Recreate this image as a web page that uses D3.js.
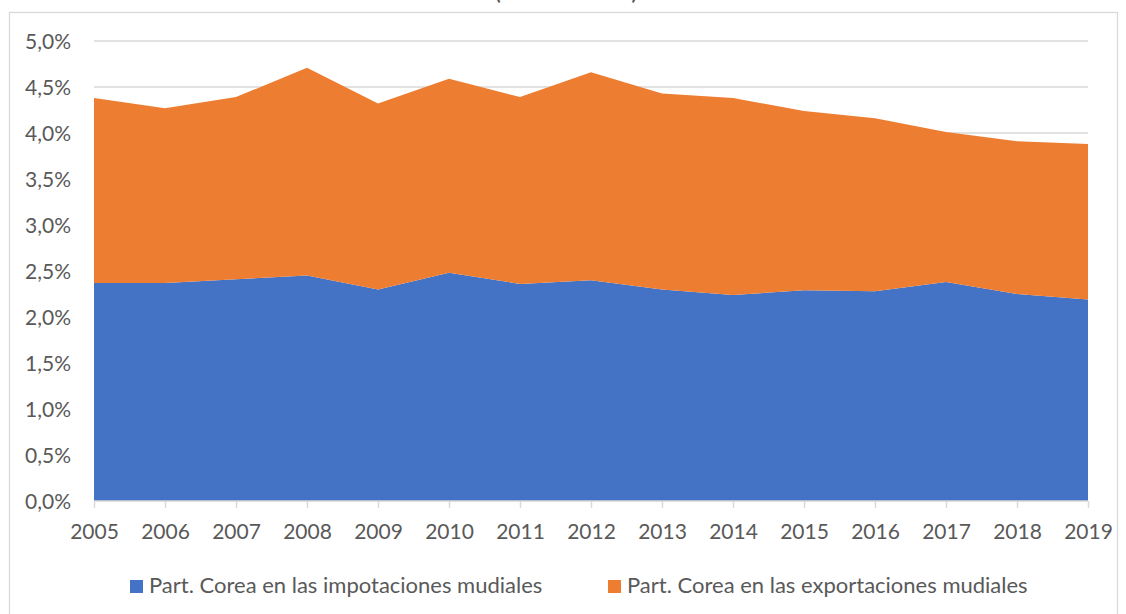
<!DOCTYPE html>
<html>
<head>
<meta charset="utf-8">
<script src="https://cdn.jsdelivr.net/npm/d3@7/dist/d3.min.js"></script>
<style>
html,body{margin:0;padding:0;background:#fff;}
svg{display:block;font-family:Lato, "Open Sans", sans-serif;}
</style>
</head>
<body>
<svg id="chart" width="1126" height="614"></svg>
<script>
const years = ["2005","2006","2007","2008","2009","2010","2011","2012","2013","2014","2015","2016","2017","2018","2019"];
const imports = [2.37,2.37,2.41,2.45,2.30,2.48,2.36,2.40,2.30,2.24,2.29,2.28,2.38,2.25,2.19];
const exports = [2.01,1.90,1.98,2.26,2.02,2.11,2.03,2.26,2.13,2.14,1.95,1.88,1.63,1.66,1.69];
const yTicks = [0,0.5,1,1.5,2,2.5,3,3.5,4,4.5,5];
const seriesNames = ["Part. Corea en las impotaciones mudiales","Part. Corea en las exportaciones mudiales"];
const colors = ["#4472C4","#ED7D31"];
const titleText = "(2005-2019)";

const svg = d3.select("#chart");
const textColor = "#595959";
const gridColor = "#d9d9d9";

// chart border
svg.append("rect").attr("x",9.5).attr("y",12.5).attr("width",1108).attr("height",640)
  .attr("fill","none").attr("stroke",gridColor).attr("stroke-width",1.3);

// title (cut off at the top, as in the source image)
svg.append("text").attr("x",566).attr("y",-1.5).attr("text-anchor","middle")
  .attr("font-size",26).attr("fill",textColor).text(titleText);

const x = d3.scalePoint().domain(years).range([94,1088]);
const y = d3.scaleLinear().domain([0,5]).range([501,41]);

// gridlines
svg.append("g").selectAll("line").data(yTicks.filter(d=>d>0)).join("line")
  .attr("x1",94).attr("x2",1088).attr("y1",d=>y(d)).attr("y2",d=>y(d))
  .attr("stroke",gridColor).attr("stroke-width",1.5);

const data = years.map((yr,i)=>({year:yr, imp:imports[i], exp:exports[i]}));
const stack = d3.stack().keys(["imp","exp"]);
const stacked = stack(data);
const area = d3.area().x(d=>x(d.data.year)).y0(d=>y(d[0])).y1(d=>y(d[1]));
svg.append("g").selectAll("path").data(stacked).join("path")
  .attr("d",area).attr("fill",(d,i)=>colors[i]);

// x axis
const xAxis = d3.axisBottom(x).tickSize(7).tickPadding(16);
const gx = svg.append("g").attr("transform","translate(0,501)").call(xAxis);
gx.select(".domain").attr("stroke",gridColor).attr("stroke-width",1.5).attr("d","M94,0H1088");
gx.selectAll(".tick line").attr("stroke",gridColor).attr("stroke-width",1.5);
gx.selectAll(".tick text").attr("font-size",21).attr("fill",textColor).attr("font-family","Lato, sans-serif");

// y axis labels
const fmt = d => d.toFixed(1).replace(".",",") + "%";
svg.append("g").selectAll("text").data(yTicks).join("text")
  .attr("x",71).attr("y",d=>y(d)).attr("dy","0.36em").attr("text-anchor","end")
  .attr("font-size",21).attr("fill",textColor).text(fmt);

// legend
const legendItems = [{x:130},{x:608}];
const lg = svg.append("g");
lg.selectAll("rect").data(seriesNames).join("rect")
  .attr("x",(d,i)=>legendItems[i].x).attr("y",580).attr("width",13).attr("height",13)
  .attr("fill",(d,i)=>colors[i]);
lg.selectAll("text").data(seriesNames).join("text")
  .attr("x",(d,i)=>legendItems[i].x+19).attr("y",593)
  .attr("font-size",22).attr("fill",textColor).text(d=>d);
</script>
</body>
</html>
